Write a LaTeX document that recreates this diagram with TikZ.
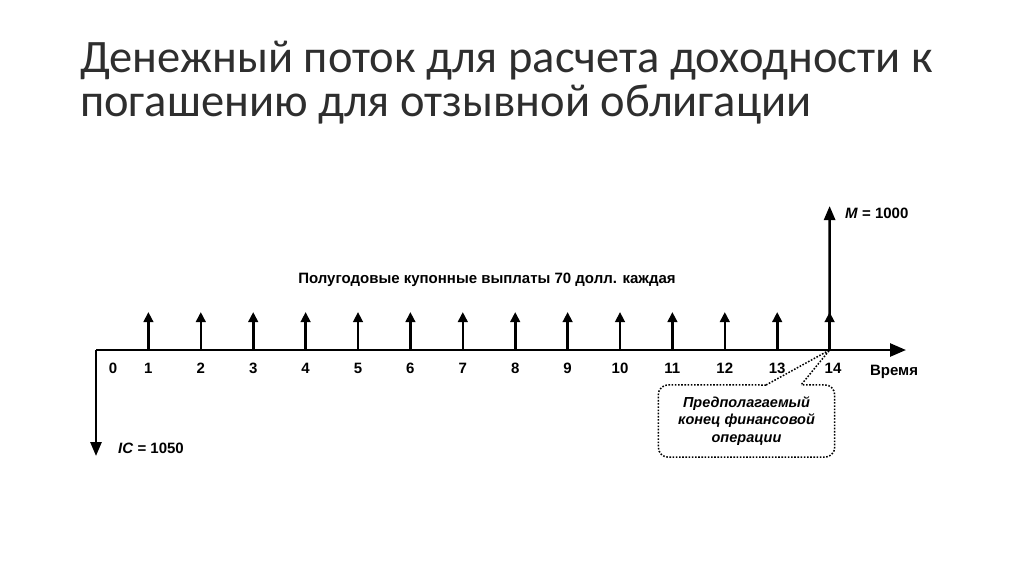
\documentclass[tikz,border=0pt]{standalone}
\usepackage{fontspec}
\setmainfont{Liberation Sans}
\newfontfamily\titlefont{Carlito}
\usetikzlibrary{arrows.meta}

\begin{document}
\begin{tikzpicture}[x=1pt, y=-1pt,
  lbl/.style={font=\bfseries\fontsize{15}{17}\selectfont, inner sep=0pt},
  ttl/.style={anchor=base west, inner sep=0pt, text=black!82, font=\titlefont\fontsize{46.5}{48}\selectfont},
  pay/.style={-{Triangle[length=10pt, width=9.5pt]}, line width=2.6pt},
  big/.style={-{Triangle[length=14pt, width=11pt]}, line width=2.6pt},
  axis/.style={-{Triangle[length=16pt, width=13pt]}, line width=2.6pt},
  dots/.style={line width=1.5pt, dash pattern=on 1.6pt off 1.6pt},
  note/.style={minimum width=176pt, minimum height=72pt, inner sep=0pt, align=center,
    font=\bfseries\itshape\fontsize{14.5}{17.5}\selectfont},
]
  \useasboundingbox (0,0) rectangle (1024,574);
  \node[ttl] (title1) at (80,72) {Денежный поток для расчета доходности к};
  \node[ttl] (title2) at (80,116) {погашению для отзывной облигации};

  \coordinate (o) at (96,350);
  \coordinate (tend) at (906,350);
  \draw[axis] (o) -- (tend);
  \node[lbl] (n0) at (113,368) {0};
  \foreach \k in {1,...,14} {
    \coordinate (t\k) at ({96+52.4*\k},350);
    \coordinate (c\k) at ({96+52.4*\k},312);
    \draw[pay] (t\k) -- (c\k);
  }
  \foreach \k in {1,...,13}
    \node[lbl] (n\k) at ({96+52.4*\k},368) {\k};
  \node[lbl] (n14) at (833,368) {14};
  \node[lbl] (time) at (894,372) {Время};

  % principal and price
  \coordinate (mtop) at (829.6,206);
  \draw[big] (t14) -- (mtop);
  \node[lbl, anchor=west] (mval) at (845,213) {\textit{M} = 1000};
  \coordinate (ic) at (96,456);
  \draw[big] (o) -- (ic);
  \node[lbl, anchor=west] (icval) at (118,448) {\textit{IC} = 1050};

  \node[lbl] (coupon) at (487,280) {Полугодовые купонные выплаты 70 долл. каждая};

  % callout for the horizon
  \node[note] (horizon) at (746.5,421) {Предполагаемый\\конец финансовой\\операции};
  \coordinate (pl) at (766,385);
  \coordinate (pr) at (801,385);
  \draw[dots, rounded corners=10pt] (pl) -- (horizon.north west) -- (horizon.south west)
    -- (horizon.south east) -- (horizon.north east) -- (pr);
  \draw[dots] (pl) -- (t14) -- (pr);
\end{tikzpicture}
\end{document}
